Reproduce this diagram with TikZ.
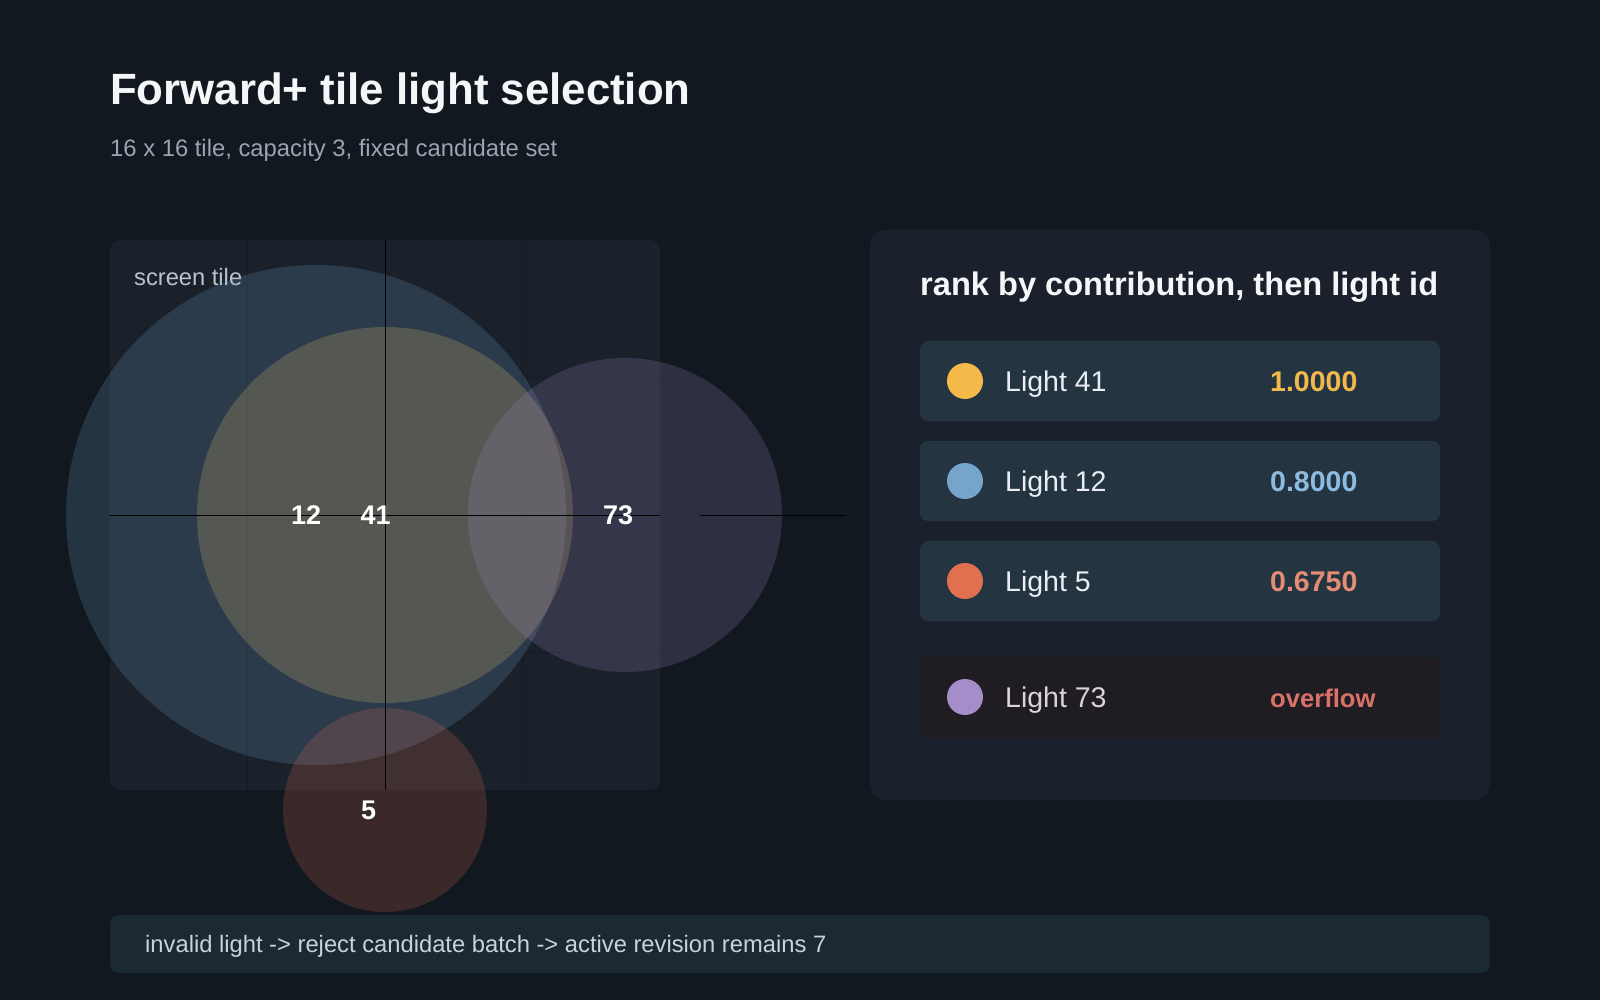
\documentclass[tikz,border=0pt]{standalone}
\usepackage{fontspec}
\setmainfont{Liberation Sans}
\definecolor{bg}{HTML}{11181F}
\definecolor{tilebg}{HTML}{1A212B}
\definecolor{gridc}{HTML}{141B23}
\definecolor{panelbg}{HTML}{1B212C}
\definecolor{rowbg}{HTML}{243441}
\definecolor{ovbg}{HTML}{1F1D21}
\definecolor{barbg}{HTML}{1C2832}
\definecolor{titlec}{HTML}{F4F6F8}
\definecolor{subc}{HTML}{9AA5B1}
\definecolor{tilelabc}{HTML}{B9C4CF}
\definecolor{rowtxt}{HTML}{E8EEF4}
\definecolor{ovtxt}{HTML}{D8D3D8}
\definecolor{barc}{HTML}{C8D2DC}
\definecolor{cyel}{HTML}{F5B94A}
\definecolor{cyeldisc}{HTML}{F4C872}
\definecolor{cblue}{HTML}{76A5CC}
\definecolor{cred}{HTML}{E07050}
\definecolor{cpur}{HTML}{A48DC8}
\definecolor{vyel}{HTML}{F2B84B}
\definecolor{vblue}{HTML}{8DBBE0}
\definecolor{vred}{HTML}{E58D74}
\definecolor{vov}{HTML}{D9726A}
\newcommand{\fsz}[1]{\fontsize{#1}{#1}\selectfont}
\tikzset{
  txt/.style={inner sep=0pt, anchor=base west},
  boxnode/.style={inner sep=0pt, draw=none},
  lightdisc/.style={circle, inner sep=0pt, draw=none, fill opacity=0.2},
  lightlab/.style={txt, text=white, font=\fsz{27}\bfseries},
  dot/.style={circle, inner sep=0pt, minimum size=36pt, draw=none},
  rowname/.style={txt, text=rowtxt, font=\fsz{28.5}},
  rowval/.style={txt, font=\fsz{28.5}\bfseries},
  faint/.style={draw=gridc, line width=1.5pt},
  cross/.style={draw=black, line width=1pt}
}
\begin{document}
\begin{tikzpicture}[x=1pt,y=-1pt]
\useasboundingbox (0,0) rectangle (1600,1000);
\fill[bg] (0,0) rectangle (1600,1000);

% title
\node[txt, text=titlec, font=\fsz{43.8}\bfseries] (title) at (110,105) {Forward+ tile light selection};
\node[txt, text=subc, font=\fsz{23.8}] (subtitle) at (110,157) {16 x 16 tile, capacity 3, fixed candidate set};

% tile panel
\node[boxnode, fill=tilebg, rounded corners=10pt, minimum width=550pt, minimum height=550pt] (tile) at (385,515) {};
\draw[faint] (247.5,240) -- (247.5,790);
\draw[faint] (522.5,240) -- (522.5,790);
\draw[faint] (110,377.5) -- (660,377.5);
\draw[faint] (110,652.5) -- (660,652.5);
\node[txt, text=tilelabc, font=\fsz{23.7}] (tilelab) at (134,285) {screen tile};

% light discs
\node[lightdisc, fill=cblue, minimum size=500pt] (l12) at (316,515) {};
\node[lightdisc, fill=cyeldisc, minimum size=376pt] (l41) at (385,515) {};
\node[lightdisc, fill=cpur, minimum size=314pt] (l73) at (625,515) {};
\node[lightdisc, fill=cred, minimum size=204pt] (l5) at (385,810) {};

% cross lines
\draw[cross] (tile.north) -- (tile.south);
\draw[cross] (tile.west) -- (tile.east);
\coordinate (ca) at (700,515);
\coordinate (cb) at (846,515);
\draw[cross] (ca) -- (cb);

% disc labels
\node[lightlab] (t12) at (291,524.5) {12};
\node[lightlab] (t41) at (360.5,524.5) {41};
\node[lightlab] (t73) at (603,524.5) {73};
\node[lightlab] (t5) at (361,819.5) {5};

% ranking panel
\node[boxnode, fill=panelbg, rounded corners=16pt, minimum width=620pt, minimum height=570pt] (panel) at (1180,515) {};
\node[txt, text=titlec, font=\fsz{32.6}\bfseries] (ptitle) at (920,295) {rank by contribution, then light id};

\node[boxnode, fill=rowbg, rounded corners=8pt, minimum width=520pt, minimum height=80pt] (r1) at (1180,381) {};
\node[boxnode, fill=rowbg, rounded corners=8pt, minimum width=520pt, minimum height=80pt] (r2) at (1180,481) {};
\node[boxnode, fill=rowbg, rounded corners=8pt, minimum width=520pt, minimum height=80pt] (r3) at (1180,581) {};
\node[boxnode, fill=ovbg, rounded corners=8pt, minimum width=520pt, minimum height=81pt] (r4) at (1180,697.5) {};

\node[dot, fill=cyel] (d1) at (965,381) {};
\node[dot, fill=cblue] (d2) at (965,481) {};
\node[dot, fill=cred] (d3) at (965,581) {};
\node[dot, fill=cpur] (d4) at (965,697) {};

\node[rowname] (n1) at (1005,391) {Light 41};
\node[rowname] (n2) at (1005,491) {Light 12};
\node[rowname] (n3) at (1005,591) {Light 5};
\node[rowname, text=ovtxt] (n4) at (1005,707) {Light 73};

\node[rowval, text=vyel] (v1) at (1270,391) {1.0000};
\node[rowval, text=vblue] (v2) at (1270,491) {0.8000};
\node[rowval, text=vred] (v3) at (1270,591) {0.6750};
\node[txt, text=vov, font=\fsz{25.6}\bfseries] (v4) at (1270,707) {overflow};

% bottom bar
\node[boxnode, fill=barbg, rounded corners=8pt, minimum width=1380pt, minimum height=58pt] (bar) at (800,944) {};
\node[txt, text=barc, font=\fsz{23.75}] (bartxt) at (145,952.5) {invalid light -> reject candidate batch -> active revision remains 7};
\end{tikzpicture}
\end{document}
